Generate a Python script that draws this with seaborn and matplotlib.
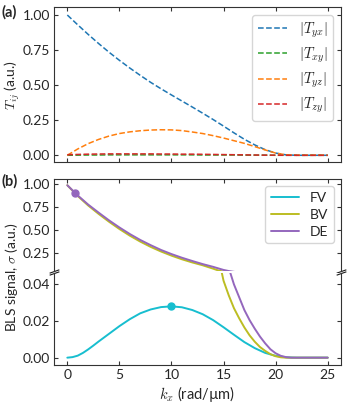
import matplotlib
matplotlib.use("Agg")
import matplotlib.pyplot as plt
import seaborn as sns

# wavevector grid (rad/um)
k = list(range(0, 26))

# panel (a): transfer matrix components
t_yx = [1.0, 0.93, 0.862, 0.797, 0.735, 0.677, 0.622, 0.57, 0.52, 0.474, 0.43,
        0.387, 0.344, 0.3, 0.255, 0.208, 0.16, 0.114, 0.074, 0.04, 0.016, 0.003,
        0, 0, 0, 0]
t_xy = [0, 0.001, 0.002, 0.002, 0.003, 0.003, 0.003, 0.003, 0.003, 0.003, 0.003,
        0.003, 0.003, 0.002, 0.002, 0.002, 0.002, 0.001, 0.001, 0.001, 0, 0,
        0, 0, 0, 0]
t_yz = [0, 0.045, 0.083, 0.113, 0.137, 0.155, 0.167, 0.175, 0.18, 0.182, 0.181,
        0.176, 0.166, 0.155, 0.14, 0.123, 0.104, 0.085, 0.062, 0.038, 0.016, 0.003,
        0, 0, 0, 0]
t_zy = [0.004, 0.006, 0.008, 0.009, 0.01, 0.01, 0.01, 0.01, 0.01, 0.009, 0.009,
        0.008, 0.008, 0.007, 0.006, 0.005, 0.004, 0.003, 0.002, 0.001, 0.001, 0,
        0, 0, 0, 0]

# panel (b): BLS signal per mode
k_fv = [0, 0.5, 1, 1.5, 2, 2.5, 3, 4, 5, 6, 7, 8, 9, 10, 11, 12, 13, 14, 15, 16,
        17, 18, 19, 20, 21, 22, 23, 24, 25]
fv = [0, 0.0003, 0.0011, 0.0026, 0.0045, 0.0066, 0.0088, 0.013, 0.0172, 0.021,
      0.0242, 0.0263, 0.0276, 0.028, 0.0275, 0.026, 0.0237, 0.0205, 0.0166, 0.0125,
      0.0085, 0.0052, 0.0026, 0.001, 0.0002, 0, 0, 0, 0]

k_bv = [0, 1, 2, 3, 4, 5, 6, 7, 8, 9, 10, 11, 12, 13, 14, 14.5, 15, 15.5, 16, 16.5,
        17, 17.5, 18, 18.5, 19, 19.5, 20, 20.5, 21, 22, 23, 24, 25]
bv = [0.99, 0.872, 0.768, 0.676, 0.59, 0.51, 0.437, 0.372, 0.314, 0.263, 0.218,
      0.178, 0.143, 0.112, 0.075, 0.055, 0.042, 0.034, 0.027, 0.0215, 0.0165, 0.0122,
      0.0087, 0.0058, 0.0037, 0.0019, 0.0008, 0.0002, 0, 0, 0, 0, 0]

k_de = [0, 1, 2, 3, 4, 5, 6, 7, 8, 9, 10, 11, 12, 13, 14, 14.5, 15, 15.5, 16, 16.5,
        17, 17.5, 18, 18.5, 19, 19.5, 20, 20.5, 21, 21.5, 22, 23, 24, 25]
de = [0.99, 0.878, 0.778, 0.69, 0.605, 0.527, 0.455, 0.39, 0.333, 0.28, 0.235,
      0.195, 0.159, 0.125, 0.095, 0.078, 0.061, 0.049, 0.04, 0.033, 0.026, 0.0205,
      0.0158, 0.0115, 0.0078, 0.0046, 0.0024, 0.001, 0.0003, 0, 0, 0, 0, 0]

# highlighted points
fv_mark = (10, 0.028)
de_mark = (0.7, 0.91)

sns.set_theme(style="ticks")
plt.rcParams["font.family"] = ["Lato", "DejaVu Sans"]
plt.rcParams["font.size"] = 10
plt.rcParams["mathtext.fontset"] = "cm"
plt.rcParams["axes.edgecolor"] = "#333333"
plt.rcParams["axes.linewidth"] = 0.8

W, H = 348, 408
fig = plt.figure(figsize=(W / 100, H / 100), dpi=100)


def px_axes(x0, y0, x1, y1):
    # rectangle given in pixels from the top-left corner
    return fig.add_axes([x0 / W, 1 - y1 / H, (x1 - x0) / W, (y1 - y0) / H])


ax_a = px_axes(54.3, 7.3, 340.7, 162.3)
ax_top = px_axes(54.3, 179.3, 340.7, 271)
ax_bot = px_axes(54.3, 273, 340.7, 365)

# ---- panel (a)
for y, c, lab in [(t_yx, "tab:blue", r"$|T_{yx}|$"), (t_xy, "tab:green", r"$|T_{xy}|$"),
                  (t_yz, "tab:orange", r"$|T_{yz}|$"), (t_zy, "tab:red", r"$|T_{zy}|$")]:
    sns.lineplot(x=k, y=y, ax=ax_a, color=c, linestyle="--", linewidth=1.1, label=lab)
ax_a.set_xlim(-1.25, 26.25)
ax_a.set_ylim(-0.05, 1.055)
ax_a.set_yticks([0, 0.25, 0.5, 0.75, 1.0])
ax_a.set_xticks([0, 5, 10, 15, 20, 25])
ax_a.tick_params(labelbottom=False)
ax_a.legend(loc="upper right", fontsize=10.5, handlelength=2.0, labelspacing=0.4,
            borderaxespad=0.5)

# ---- panel (b), broken axis
for ax in (ax_top, ax_bot):
    sns.lineplot(x=k_fv, y=fv, ax=ax, color="tab:cyan", linewidth=1.4, label="FV")
    sns.lineplot(x=k_bv, y=bv, ax=ax, color="tab:olive", linewidth=1.4, label="BV")
    sns.lineplot(x=k_de, y=de, ax=ax, color="tab:purple", linewidth=1.4, label="DE")
    ax.set_xlim(-1.25, 26.25)
    ax.set_xticks([0, 5, 10, 15, 20, 25])

ax_top.plot(*de_mark, "o", color="tab:purple", markersize=5)
ax_bot.plot(*fv_mark, "o", color="tab:cyan", markersize=5)

ax_top.set_ylim(0.0493, 1.055)
ax_top.set_yticks([0.25, 0.5, 0.75, 1.0])
ax_bot.set_ylim(-0.004, 0.0462)
ax_bot.set_yticks([0, 0.02, 0.04])
ax_bot.set_yticklabels(["0.00", "0.02", "0.04"])

ax_top.spines["bottom"].set_visible(False)
ax_bot.spines["top"].set_visible(False)
ax_top.tick_params(labelbottom=False, bottom=False)
ax_bot.tick_params(top=False)
ax_top.legend(loc="upper right", fontsize=10, handlelength=2.0, labelspacing=0.35,
              borderaxespad=0.5)
ax_bot.get_legend().remove()

brk = dict(marker=[(-1, -0.35), (1, 0.35)], markersize=7, linestyle="none",
           color="k", mec="k", mew=0.8, clip_on=False)
ax_top.plot([0, 1], [0, 0], transform=ax_top.transAxes, **brk)
ax_bot.plot([0, 1], [1, 1], transform=ax_bot.transAxes, **brk)

for ax in (ax_a, ax_top, ax_bot):
    ax.tick_params(direction="in", length=3, width=0.8, right=True, labelsize=10,
                   color="#333333", pad=3)
ax_a.tick_params(top=True)
ax_top.tick_params(top=True)

ax_bot.set_xlabel(r"$k_x$ (rad/µm)", fontsize=10.5, labelpad=2)
fig.text(12 / W, 1 - 85 / H, r"$T_{ij}$ (a.u.)", rotation=90, ha="center",
         va="center", fontsize=10)
fig.text(12 / W, 1 - 277 / H, r"BLS signal, $\sigma$ (a.u.)", rotation=90,
         ha="center", va="center", fontsize=10)
fig.text(2 / W, 1 - 5 / H, "(a)", fontweight="bold", fontsize=10.5, va="top")
fig.text(2 / W, 1 - 174 / H, "(b)", fontweight="bold", fontsize=10.5, va="top")

fig.savefig("out.png", dpi=100)
